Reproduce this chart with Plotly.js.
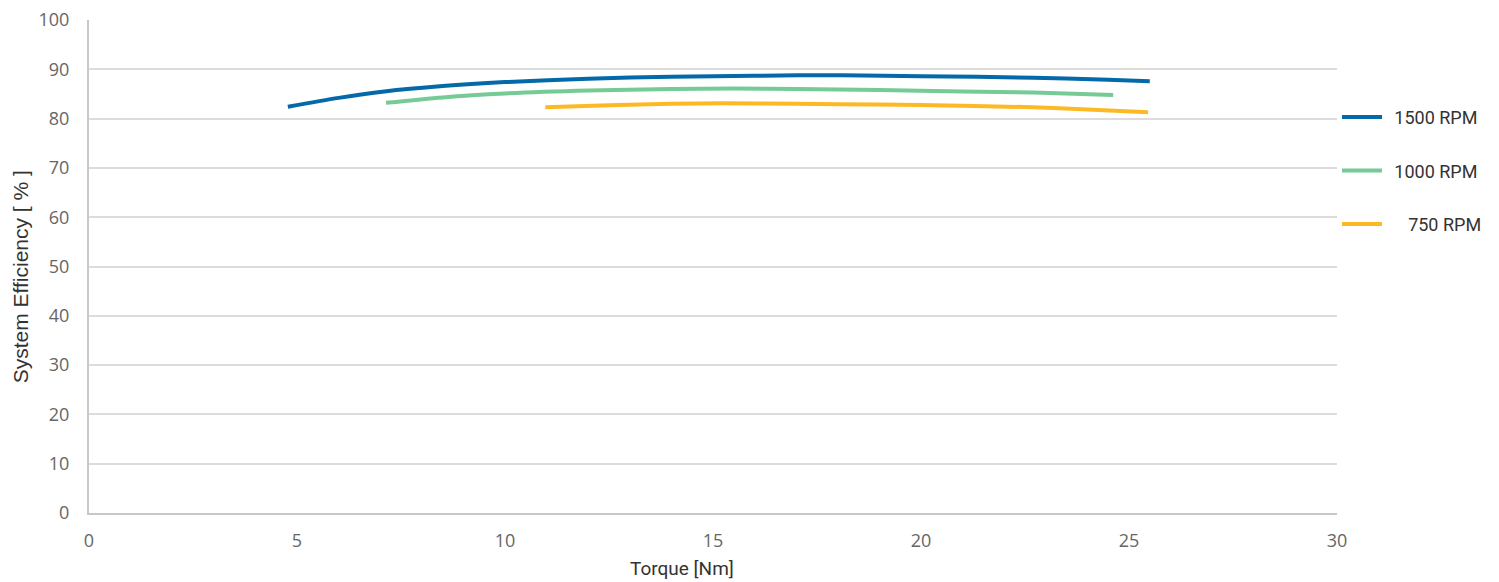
<!DOCTYPE html>
<html>
<head>
<meta charset="utf-8">
<script src="https://cdn.plot.ly/plotly-3.0.1.min.js"></script>
<style>html,body{margin:0;padding:0;background:#fff;}#chart{width:1499px;height:582px;}</style>
</head>
<body>
<div id="chart"></div>
<script>
const seriesNames = ["\u2009\u20091500 RPM", "\u2009\u20091000 RPM", "\u2007\u2009\u2009\u2009750 RPM"];
const torque1500 = [4.78, 6.0, 7.1, 8.5, 10.0, 12.0, 14.0, 16.0, 18.1, 20.0, 22.7, 24.5, 25.5];
const eff1500    = [82.4, 84.2, 85.5, 86.6, 87.4, 88.1, 88.5, 88.7, 88.8, 88.6, 88.3, 87.9, 87.6];
const torque1000 = [7.14, 8.5, 10.0, 12.0, 14.0, 15.5, 17.0, 19.0, 21.0, 22.7, 24.62];
const eff1000    = [83.2, 84.3, 85.1, 85.7, 86.0, 86.1, 86.0, 85.8, 85.5, 85.3, 84.8];
const torque750  = [10.97, 12.5, 14.0, 15.2, 17.0, 19.0, 21.0, 22.7, 24.0, 25.46];
const eff750     = [82.3, 82.7, 83.0, 83.1, 83.0, 82.85, 82.6, 82.3, 81.85, 81.3];
const xTicks = [0, 5, 10, 15, 20, 25, 30];
const yTicks = [0, 10, 20, 30, 40, 50, 60, 70, 80, 90, 100];
const colors = ["#0369a8", "#76ca96", "#fdb924"];
const xTitle = "Torque [Nm]";
const yTitle = "System Efficiency [ % ]";

const xs = [torque1500, torque1000, torque750];
const ys = [eff1500, eff1000, eff750];
const traces = seriesNames.map((n, i) => ({
  x: xs[i], y: ys[i], name: n, mode: "lines", type: "scatter",
  line: {color: colors[i], width: 4, shape: "spline", smoothing: 0.8},
  legendgroup: "g" + i
}));

const layout = {
  width: 1499, height: 582,
  margin: {l: 89, r: 160, t: 20, b: 69},
  paper_bgcolor: "#fff", plot_bgcolor: "#fff",
  font: {family: "Roboto, 'Open Sans', sans-serif", color: "#595959", size: 18},
  showlegend: true,
  legend: {x: 1.0, xanchor: "left", y: 0.84, yanchor: "top", xref: "paper",
    font: {family: "Roboto, sans-serif", size: 18, color: "#333"},
    tracegroupgap: 27, itemwidth: 40, bgcolor: "rgba(0,0,0,0)"},
  xaxis: {range: [0, 30], tickvals: xTicks, ticktext: xTicks.map(String), automargin: false,
    showgrid: false, zeroline: false, showline: true, linecolor: "#c8c8c8", linewidth: 2,
    ticks: "", ticklabelstandoff: 10,
    tickfont: {size: 18, color: "#666", family: "'Open Sans', sans-serif"}},
  yaxis: {range: [0, 100], tickvals: yTicks, ticktext: yTicks.map(String), automargin: false,
    showgrid: true, gridcolor: "#dcdcdc", gridwidth: 2, zeroline: false,
    showline: true, linecolor: "#c8c8c8", linewidth: 2, ticks: "",
    ticklabelstandoff: 14,
    tickfont: {size: 18, color: "#666", family: "'Open Sans', sans-serif"}},
  annotations: [
    {text: xTitle, xref: "paper", yref: "paper", x: 0.475, y: 0, yshift: -55,
     xanchor: "center", yanchor: "middle", showarrow: false,
     font: {size: 19, color: "#333", family: "Roboto, sans-serif"}},
    {text: yTitle, xref: "paper", yref: "paper", x: 0, y: 0.478, xshift: -69, textangle: -90,
     xanchor: "center", yanchor: "middle", showarrow: false,
     font: {size: 21, color: "#333", family: "'Liberation Sans', Arial, sans-serif"}}
  ]
};
Plotly.newPlot("chart", traces, layout, {displayModeBar: false, staticPlot: true});
</script>
</body>
</html>
